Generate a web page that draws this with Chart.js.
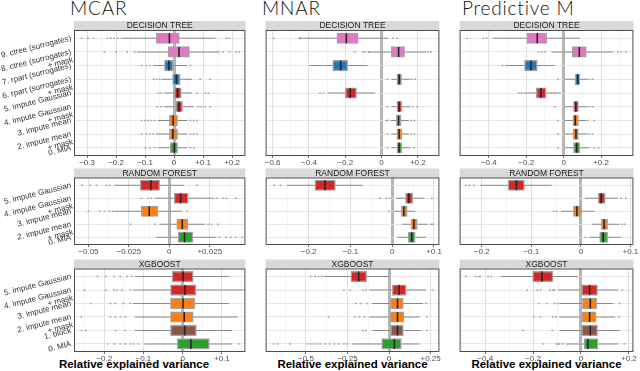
<!DOCTYPE html>
<html>
<head>
<meta charset="utf-8">
<script src="https://cdn.jsdelivr.net/npm/chart.js@4.4.1/dist/chart.umd.min.js"></script>
<style>
  body { margin: 0; width: 640px; height: 371px; background: #fff; position: relative; overflow: hidden; }
  canvas { position: absolute; }
  .title { position: absolute; top: -1px; font: 300 19px Lato, sans-serif; line-height: 18px; letter-spacing: 0.8px; color: #111; white-space: nowrap; }
  .xtitle { position: absolute; top: 357px; width: 200px; margin-left: -100px; text-align: center;
            font: bold 11.5px 'Liberation Sans', Arial, sans-serif; line-height: 14px; color: #000; }
</style>
</head>
<body>
<div class="title" style="left:70px">MCAR</div>
<div class="title" style="left:262px">MNAR</div>
<div class="title" style="left:462px">Predictive M</div>
<div class="xtitle" style="left:134px">Relative explained variance</div>
<div class="xtitle" style="left:352.5px">Relative explained variance</div>
<div class="xtitle" style="left:546.5px">Relative explained variance</div>
<script>
// row labels (top to bottom)
const treeLabels = [
  ['9. ctree (surrogates)'], ['8. ctree (surrogates)', '+ mask'],
  ['7. rpart (surrogates)'], ['6. rpart (surrogates)', '+ mask'],
  ['5. impute Gaussian'], ['4. impute Gaussian', '+ mask'],
  ['3. impute mean'], ['2. impute mean', '+ mask'], ['0. MIA']
];
const forestLabels = [
  ['5. impute Gaussian'], ['4. impute Gaussian', '+ mask'],
  ['3. impute mean'], ['2. impute mean', '+ mask'], ['0. MIA']
];
const boostLabels = [
  ['5. impute Gaussian'], ['4. impute Gaussian', '+ mask'],
  ['3. impute mean'], ['2. impute mean', '+ mask'], ['1. block'], ['0. MIA']
];

const PINK = '#e377c2', BLUE = '#1f77b4', RED = '#d62728', ORANGE = '#ff7f0e', BROWN = '#8c564b', GREEN = '#2ca02c';
const treeColors = [PINK, PINK, BLUE, BLUE, RED, RED, ORANGE, ORANGE, GREEN];
const forestColors = [RED, RED, ORANGE, ORANGE, GREEN];
const boostColors = [RED, RED, ORANGE, ORANGE, BROWN, GREEN];

// box stats per row: [whisker low, q1, median, q3, whisker high]
const treeMCAR = [
  [-0.177, -0.061, -0.016, 0.018, 0.135], [-0.128, -0.020, 0.017, 0.053, 0.158],
  [-0.072, -0.033, -0.018, -0.003, 0.045], [-0.044, -0.005, 0.008, 0.021, 0.062],
  [-0.034, 0.001, 0.012, 0.025, 0.062], [-0.034, 0.006, 0.017, 0.029, 0.067],
  [-0.056, -0.016, -0.003, 0.012, 0.045], [-0.062, -0.016, -0.004, 0.012, 0.045],
  [-0.056, -0.013, 0.001, 0.012, 0.045]
];
const treeMCAROut = [
  [-0.319, -0.297, -0.277, -0.23, -0.218, -0.207, -0.193, -0.181, 0.14, 0.18, 0.19],
  [-0.24, -0.2, -0.162, -0.136, 0.169, 0.191, 0.214, 0.225],
  [-0.112, -0.095, -0.083, 0.057], [-0.07, -0.06, -0.05, 0.09, 0.124],
  [-0.054, -0.044, 0.079, 0.107, 0.118], [-0.058, -0.044, 0.084, 0.095, 0.107, 0.124],
  [-0.112, -0.1, -0.089, -0.078, -0.067, 0.057, 0.068, 0.079],
  [-0.112, -0.095, -0.083, -0.072, 0.057, 0.068, 0.079],
  [-0.1, -0.083, -0.067, 0.057, 0.068]
];
const treeMNAR = [
  [-0.435, -0.246, -0.194, -0.129, 0.037], [-0.077, 0.054, 0.094, 0.127, 0.246],
  [-0.4, -0.269, -0.225, -0.187, -0.077], [0.054, 0.085, 0.097, 0.11, 0.15],
  [-0.298, -0.199, -0.173, -0.138, -0.037], [0.054, 0.085, 0.097, 0.112, 0.15],
  [0.05, 0.082, 0.094, 0.108, 0.15], [0.054, 0.085, 0.097, 0.112, 0.15],
  [0.054, 0.085, 0.097, 0.112, 0.15]
];
const treeMNAROut = [
  [-0.595, -0.455, -0.449, -0.443, 0.063, 0.085], [-0.147, -0.103, -0.089, -0.068, 0.255, 0.272],
  [], [0.033, 0.155, 0.168, 0.185], [-0.339, -0.321], [0.033, 0.155, 0.172, 0.197],
  [0.026, 0.035, 0.163, 0.18], [0.033, 0.163, 0.18], [0.033, 0.155, 0.18]
];
const treePred = [
  [-0.378, -0.195, -0.141, -0.09, 0.087], [-0.065, 0.045, 0.084, 0.121, 0.265],
  [-0.311, -0.209, -0.175, -0.141, -0.048], [0.011, 0.062, 0.075, 0.087, 0.129],
  [-0.217, -0.146, -0.121, -0.094, -0.014], [0.003, 0.053, 0.065, 0.079, 0.129],
  [0.003, 0.05, 0.062, 0.079, 0.121], [0.003, 0.05, 0.066, 0.079, 0.129],
  [0.003, 0.053, 0.07, 0.087, 0.138]
];
const treePredOut = [
  [-0.517, -0.429, -0.412], [-0.133, -0.116, -0.099, 0.29, 0.307, 0.332],
  [-0.327], [-0.031, 0.006, 0.138, 0.155], [-0.24, -0.226], [-0.048, 0.138, 0.155],
  [-0.031, 0.129, 0.163], [-0.031, 0.138, 0.155], [-0.031, 0.163, 0.188]
];

const forestMCAR = [
  [-0.034, -0.018, -0.0114, -0.006, 0.009], [-0.009, 0.003, 0.007, 0.0116, 0.028],
  [-0.034, -0.0174, -0.0124, -0.007, 0.008], [-0.006, 0.0046, 0.008, 0.0114, 0.022],
  [-0.008, 0.0054, 0.0094, 0.0146, 0.029]
];
const forestMCAROut = [
  [-0.054, -0.049, -0.045, -0.039, -0.037, 0.017],
  [-0.0173, -0.0133, -0.0113, 0.0294, 0.0334, 0.0354, 0.041],
  [-0.05, -0.043, -0.04, -0.037, -0.035, 0.011],
  [-0.024, -0.009, 0.024, 0.026, 0.03], [0.031, 0.035, 0.038, 0.041, 0.045]
];
const forestMNAR = [
  [-0.252, -0.185, -0.161, -0.136, -0.07], [0.009, 0.032, 0.04, 0.049, 0.077],
  [0.005, 0.022, 0.028, 0.036, 0.055], [0.024, 0.045, 0.052, 0.06, 0.085],
  [0.013, 0.038, 0.047, 0.055, 0.081]
];
const forestMNAROut = [[-0.282, -0.267], [-0.029, -0.014, -0.006, 0.095], [-0.008], [0.093, 0.097], []];
const forestPred = [
  [-0.203, -0.147, -0.13, -0.114, -0.059], [0.008, 0.035, 0.041, 0.049, 0.075],
  [-0.04, -0.015, -0.008, 0.001, 0.027], [0.022, 0.041, 0.047, 0.054, 0.077],
  [0.017, 0.038, 0.045, 0.054, 0.081]
];
const forestPredOut = [[-0.232, -0.225, -0.216], [0.081, 0.091], [-0.055, -0.049], [0.082, 0.088], [0.009]];

const boostMCAR = [
  [-0.122, -0.027, 0.001, 0.027, 0.118], [-0.126, -0.031, 0.006, 0.034, 0.151],
  [-0.126, -0.031, 0.001, 0.031, 0.118], [-0.122, -0.031, 0.004, 0.027, 0.14],
  [-0.122, -0.031, 0.005, 0.035, 0.126], [-0.097, -0.014, 0.021, 0.068, 0.126]
];
const boostMCAROut = [
  [-0.217, -0.196, -0.175, -0.159, -0.142, -0.13],
  [-0.25, -0.196, -0.175, -0.167, -0.155, -0.134, 0.155],
  [-0.234, -0.184, -0.172, -0.151, -0.134],
  [-0.258, -0.184, -0.171, -0.159, -0.146],
  [-0.258, -0.247, -0.171, -0.146],
  [-0.191, -0.175, -0.159, -0.146, -0.134, -0.126, -0.113, 0.143]
];
const boostMNAR = [
  [-0.396, -0.23, -0.183, -0.135, 0.004], [-0.12, 0.019, 0.061, 0.103, 0.223],
  [-0.101, 0.01, 0.051, 0.086, 0.204], [-0.12, 0.006, 0.051, 0.09, 0.185],
  [-0.101, 0.01, 0.051, 0.086, 0.194], [-0.22, -0.044, 0.032, 0.074, 0.185]
];
const boostMNAROut = [
  [-0.472, -0.444, -0.425, -0.406], [-0.272, -0.234, -0.158, -0.139, 0.261],
  [-0.2, -0.172, -0.134, 0.223], [-0.364, -0.206, -0.177, -0.149, 0.227],
  [-0.158, -0.139, 0.227],
  [-0.695, -0.672, -0.596, -0.491, -0.472, -0.453, -0.434, -0.415, -0.387, -0.358, -0.33, -0.301, -0.272, -0.253]
];
const boostPred = [
  [-0.335, -0.202, -0.163, -0.117, -0.011], [-0.097, 0.003, 0.036, 0.069, 0.155],
  [-0.09, 0.006, 0.039, 0.066, 0.135], [-0.09, 0.003, 0.036, 0.063, 0.142],
  [-0.09, 0.003, 0.039, 0.069, 0.155], [-0.064, 0.013, 0.029, 0.071, 0.155]
];
const boostPredOut = [
  [-0.48, -0.44, -0.427, -0.42, -0.388, -0.375],
  [-0.225, -0.183, -0.169, -0.13, -0.117, -0.11, 0.172],
  [-0.176, -0.143, -0.11, -0.097, 0.161],
  [-0.196, -0.169, -0.117, -0.103, 0.16],
  [-0.242, -0.12, 0.16],
  [-0.156, -0.103, -0.097, -0.09, -0.077, 0.181]
];

// x ranges and labelled ticks per panel
const treeMCARLim = [-0.345, 0.246], treeMCARTicks = [-0.3, -0.2, -0.1, 0, 0.1, 0.2];
const treeMNARLim = [-0.639, 0.319], treeMNARTicks = [-0.6, -0.4, -0.2, 0, 0.2];
const treePredLim = [-0.556, 0.373], treePredTicks = [-0.4, -0.2, 0, 0.2];
const forestMCARLim = [-0.0589, 0.047], forestMCARTicks = [-0.05, -0.025, 0, 0.025];
const forestMNARLim = [-0.303, 0.113], forestMNARTicks = [-0.2, -0.1, 0, 0.1];
const forestPredLim = [-0.2446, 0.106], forestPredTicks = [-0.2, -0.1, 0, 0.1];
const boostMCARLim = [-0.277, 0.16], boostMCARTicks = [-0.2, -0.1, 0, 0.1];
const boostMNARLim = [-0.743, 0.303], boostMNARTicks = [-0.5, -0.25, 0, 0.25];
const boostPredLim = [-0.507, 0.219], boostPredTicks = [-0.4, -0.2, 0, 0.2];

// page geometry
const cols = [
  {left: 0, width: 252, padL: 0, padR: 2, axisW: 74},
  {left: 259, width: 187, padL: 2, padR: 2, axisW: 0},
  {left: 453, width: 187, padL: 2, padR: 2, axisW: 0}
];
const rowGeo = [
  {top: 20, height: 148, padT: 10, axisH: 12, strip: 'DECISION TREE'},
  {top: 168, height: 89, padT: 9.5, axisH: 12, strip: 'RANDOM FOREST'},
  {top: 258, height: 113, padT: 10.5, axisH: 19, strip: 'XGBOOST'}
];

const panels = [
  [0, 0, treeLabels, treeColors, treeMCAR, treeMCAROut, treeMCARLim, treeMCARTicks],
  [1, 0, treeLabels, treeColors, treeMNAR, treeMNAROut, treeMNARLim, treeMNARTicks],
  [2, 0, treeLabels, treeColors, treePred, treePredOut, treePredLim, treePredTicks],
  [0, 1, forestLabels, forestColors, forestMCAR, forestMCAROut, forestMCARLim, forestMCARTicks],
  [1, 1, forestLabels, forestColors, forestMNAR, forestMNAROut, forestMNARLim, forestMNARTicks],
  [2, 1, forestLabels, forestColors, forestPred, forestPredOut, forestPredLim, forestPredTicks],
  [0, 2, boostLabels, boostColors, boostMCAR, boostMCAROut, boostMCARLim, boostMCARTicks],
  [1, 2, boostLabels, boostColors, boostMNAR, boostMNAROut, boostMNARLim, boostMNARTicks],
  [2, 2, boostLabels, boostColors, boostPred, boostPredOut, boostPredLim, boostPredTicks]
];

Chart.defaults.font.family = "'Liberation Sans', Arial, sans-serif";
Chart.defaults.color = '#4d4d4d';

// grey facet strip above the panel and a frame around it
const facet = {
  id: 'facet',
  beforeDraw(chart, args, opts) {
    const {ctx, chartArea: a} = chart;
    ctx.save();
    ctx.fillStyle = '#d9d9d9';
    ctx.fillRect(a.left, a.top - 9, a.right - a.left, 9);
    ctx.fillStyle = '#1a1a1a';
    ctx.font = "8.5px 'Liberation Sans', Arial, sans-serif";
    ctx.textAlign = 'center';
    ctx.textBaseline = 'middle';
    ctx.fillText(opts.label, (a.left + a.right) / 2, a.top - 4.3);
    ctx.restore();
  },
  afterDatasetsDraw(chart) {
    const {ctx, chartArea: a} = chart;
    ctx.save();
    ctx.strokeStyle = '#4d4d4d';
    ctx.lineWidth = 1;
    ctx.strokeRect(a.left + 0.5, a.top + 0.5, a.right - a.left - 1, a.bottom - a.top - 1);
    ctx.restore();
  }
};

const fmt = v => v === 0 ? '0' : (v > 0 ? '+' : '\u2212') + String(+Math.abs(v).toFixed(4));

function tickList(majors, lim) {
  const step = majors[1] - majors[0];
  const out = majors.map(v => ({value: v}));
  for (let v = majors[0] - step / 2; v <= lim[1]; v += step) {
    if (v >= lim[0]) out.push({value: +v.toFixed(6), minor: true});
  }
  return out.sort((a, b) => a.value - b.value);
}

panels.forEach(([c, r, labels, colors, stats, outs, lim, majors]) => {
  const col = cols[c], g = rowGeo[r];
  const cv = document.createElement('canvas');
  cv.width = col.width;
  cv.height = g.height;
  cv.style.left = col.left + 'px';
  cv.style.top = g.top + 'px';
  document.body.appendChild(cv);

  const outPts = [];
  outs.forEach((row, i) => row.forEach(x => outPts.push({x: x, y: i})));

  new Chart(cv, {
    type: 'bar',
    data: {
      datasets: [
        {
          type: 'scatter', order: 0,
          data: stats.map((s, i) => ({x: s[2], y: i})),
          pointStyle: 'line', rotation: 90, radius: 5,
          borderColor: '#262626', borderWidth: 1.6
        },
        {
          type: 'bar', indexAxis: 'y', grouped: false, order: 1,
          data: stats.map((s, i) => ({x: [s[1], s[3]], y: i})),
          barThickness: 10.5, backgroundColor: colors,
          borderColor: '#a3a3a3', borderWidth: 1.4, borderSkipped: false
        },
        {
          type: 'bar', indexAxis: 'y', grouped: false, order: 2,
          data: stats.map((s, i) => ({x: [s[0], s[4]], y: i})),
          barThickness: 1, backgroundColor: '#8a8a8a', borderWidth: 0, inflateAmount: 0
        },
        {
          type: 'scatter', order: 3,
          data: outPts,
          pointRadius: 1, backgroundColor: 'rgba(70,70,70,0.4)', borderWidth: 0
        }
      ]
    },
    options: {
      responsive: false,
      animation: false,
      events: [],
      layout: {padding: {left: col.padL, right: col.padR, top: g.padT, bottom: 0}},
      plugins: {legend: {display: false}, tooltip: {enabled: false}, facet: {label: g.strip}},
      scales: {
        x: {
          type: 'linear', min: lim[0], max: lim[1], offset: false, bounds: 'data',
          afterBuildTicks: s => { s.ticks = tickList(majors, lim); },
          afterFit: s => { s.height = g.axisH; s.paddingLeft = 0; s.paddingRight = 0; },
          ticks: {
            autoSkip: false, minRotation: 0, maxRotation: 0, padding: 0,
            font: {size: 8}, color: '#4d4d4d',
            callback: (v, i, t) => t[i].minor ? '' : fmt(v)
          },
          grid: {
            offset: false,
            color: ctx => {
              const t = ctx.tick || {};
              if (t.value === 0) return '#b5b5b5';
              return t.minor ? '#f0f0f0' : '#dcdcdc';
            },
            lineWidth: ctx => {
              const t = ctx.tick || {};
              if (t.value === 0) return 3;
              return t.minor ? 0.6 : 0.9;
            },
            drawTicks: true, tickLength: 2,
            tickColor: ctx => (ctx.tick && ctx.tick.minor) ? 'rgba(0,0,0,0)' : '#4d4d4d',
            tickWidth: 0.8
          },
          border: {display: false}
        },
        y: {
          type: 'linear', min: -0.6, max: labels.length - 0.4, reverse: true, offset: false, bounds: 'data',
          afterBuildTicks: s => { s.ticks = labels.map((_, i) => ({value: i})); },
          afterFit: s => { s.width = col.axisW; s.paddingTop = 0; s.paddingBottom = 0; },
          ticks: {
            display: c === 0, autoSkip: false, minRotation: 14, maxRotation: 14, padding: 3,
            font: {size: 8, lineHeight: 1.0}, color: '#333',
            callback: v => {
              const l = labels[v];
              return l.length > 1 ? [''].concat(l) : l[0];
            }
          },
          grid: {offset: false, color: '#e2e2e2', lineWidth: 0.8, drawTicks: false},
          border: {display: false}
        }
      }
    },
    plugins: [facet]
  });
});
</script>
</body>
</html>
